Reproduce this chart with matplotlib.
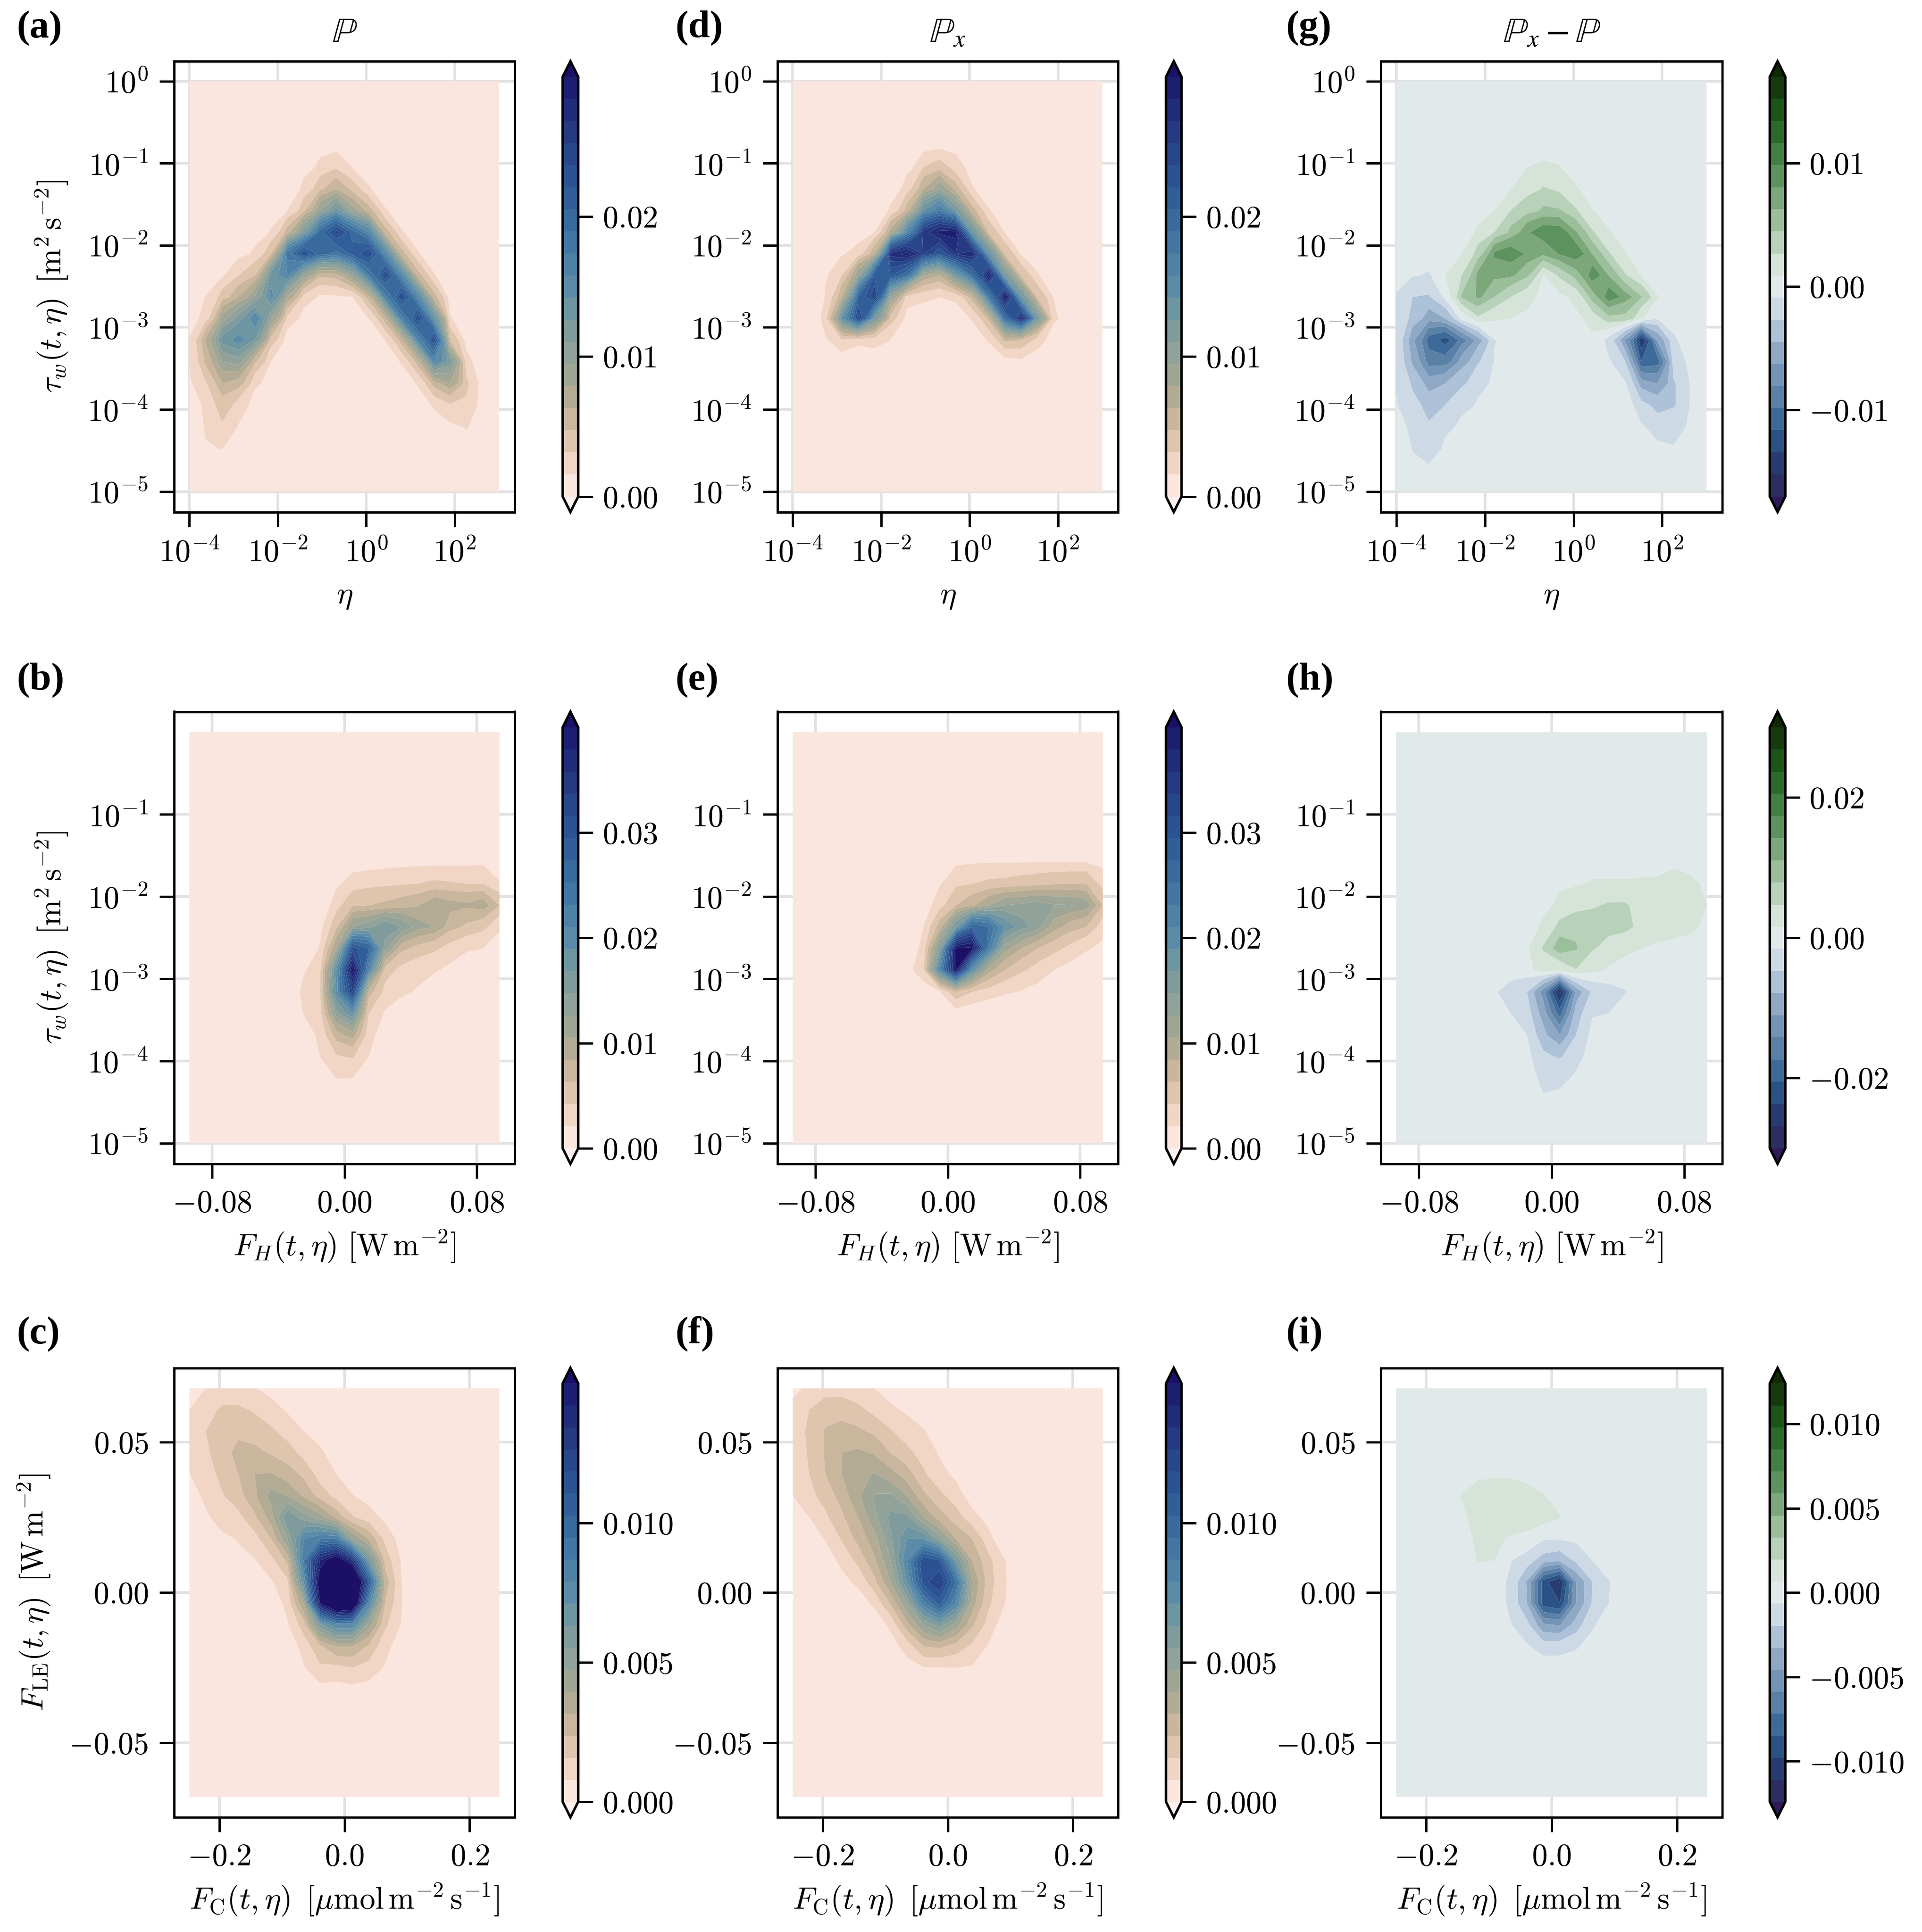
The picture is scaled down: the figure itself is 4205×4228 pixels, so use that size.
import numpy as np
import matplotlib
matplotlib.use('Agg')
import matplotlib.pyplot as plt
from matplotlib.colors import ListedColormap

plt.rcParams['font.family'] = 'serif'
plt.rcParams['font.serif'] = ['cmr10']
plt.rcParams['mathtext.fontset'] = 'cm'
plt.rcParams['axes.unicode_minus'] = False
plt.rcParams['axes.formatter.use_mathtext'] = True

# densities on the 20 x 20 grid, read off the contour bands (1 = one contour step)
# column k: (first row from the top, values going down)
A_COLS = {
    0: (10, [.4, .6, 1.05, 1.05, .9]),
    1: (10, [1.05, 1.5, 4.2, 3.3, 1.9, 1.5, 1.2, .9, .4]),
    2: (9, [.9, 2.5, 5.5, 8.5, 6, 4, 2.5, 1.9, 1.05, .3]),
    3: (8, [.7, 2, 4, 7.5, 9.5, 6.5, 3.5, 1.6, .95]),
    4: (7, [.5, 1.2, 3, 6, 10, 8, 3.2, 1.3, .5]),
    5: (6, [.4, 1.1, 3, 8.5, 9.5, 6, 2.6, 1, .3]),
    6: (5, [.3, 1, 3.5, 11.5, 10, 5, 1.7, .5]),
    7: (4, [.6, 1.3, 2.8, 7.5, 14.8, 6, 1.6, .6]),
    8: (3, [.5, 1.3, 2.8, 6, 12.5, 12.5, 3.2, .85, .3]),
    9: (3, [.6, 1.9, 4, 8.5, 15.5, 11.5, 3.5, .85, .3]),
    10: (4, [1, 2.6, 5.5, 12.5, 13.5, 6, 1, .4]),
    11: (4, [.4, 1.1, 3.5, 10, 15, 11, 3.5, 1]),
    12: (5, [.4, 1.1, 3.5, 10, 15, 10.5, 3.5, 1, .4]),
    13: (6, [.4, 1.1, 3.5, 10, 15, 10.5, 3.5, 1.1, .4]),
    14: (7, [.4, 1.1, 3.5, 10, 15, 10, 3.5, 1.1, .4]),
    15: (8, [.3, 1.1, 3.5, 9, 15, 10, 3.5, 1.2, .4]),
    16: (10, [.5, 1.1, 3, 7.5, 5, 1.9, .85]),
    17: (12, [.6, 1.4, 2.2, 1.9, 1.1, .5]),
    18: (14, [.4, .4]),
}
D_COLS = {
    2: (9, [.9, 1.1, 1.6, .9, .2]),
    3: (8, [.9, 2, 4, 9, 1.8, .5]),
    4: (7, [.3, 1.5, 6, 13, 15.5, 1.3, .3]),
    5: (6, [.3, 1, 4, 14, 16, 8, 1.5, .4]),
    6: (5, [.4, 1.2, 4.5, 17.5, 14, 6, 2.5, 1, .3]),
    7: (4, [.6, 1.6, 3.5, 10, 18.5, 12, 1.6, .6]),
    8: (3, [.5, 2, 4, 9, 16.5, 16, 5, 1.3, .4]),
    9: (3, [.7, 2.6, 6, 11, 18.5, 14, 4, 1, .3]),
    10: (3, [.6, 1.5, 3.5, 8, 18.5, 17, 8, 1.3, .4]),
    11: (4, [.5, 1.1, 3.5, 8.5, 18, 12, 3.5, 1.1, .4]),
    12: (5, [.4, 1.1, 3, 9, 18.7, 11, 3.2, 1.1, .3]),
    13: (6, [.4, 1, 3, 8, 18.9, 12, 3.2, .6]),
    14: (7, [.3, 1, 3, 8.5, 17.5, 3, .8]),
    15: (8, [.5, 1.1, 3, 8, 1.4, .6]),
    16: (9, [.3, 1, 1.2, .5]),
    17: (11, [.3]),
}
G_COLS = {
    0: (10, [-.6, -.7, -.8, -.75, -.55, -.45]),
    1: (9, [-.45, -1.5, -1.9, -3.3, -2.7, -1.7, -1.2, -.9, -.55, -.3]),
    2: (9, [-.6, -1.6, -3.1, -6, -5, -3, -1.9, -1.4, -.9, -.4]),
    3: (9, [.5, -.2, -2.5, -7, -5, -2.5, -1.5, -.7, -.35]),
    4: (8, [.5, 1.5, 2.6, -.2, -5, -3, -1.7, -.8, -.3]),
    5: (7, [.7, 2, 3.8, 3.7, 1.3, -3, -1.6, -.8, -.4]),
    6: (6, [.5, 1.5, 4.7, 3.8, 2.5, .7, -.55, -.45, -.3]),
    7: (5, [.5, 1.5, 2.8, 5.2, 3.7, 1.5, .5]),
    8: (4, [.5, 1.1, 2.1, 4.4, 4.3, 2.7, .9, .3]),
    9: (3, [.25, .6, 1.6, 2.7, 5.2, 3.7, .45, .1]),
    10: (4, [.55, 1.3, 2.6, 5.1, 4.6, 1.7, .3]),
    11: (5, [.6, 1.6, 3.6, 5.2, 3, .8, .3]),
    12: (6, [.55, 1.6, 3.5, 5.2, 3, .9, .3]),
    13: (7, [.6, 1.6, 3.5, 5.2, 2.2, -.9, -.4]),
    14: (8, [.55, 1.6, 4, 2.2, -3.5, -1.4, -.4]),
    15: (9, [.5, 2.6, .6, -8.5, -6.5, -3, -1.2, -.4]),
    16: (10, [.55, -.5, -3.3, -6, -3.5, -1.9, -1, -.3]),
    17: (11, [-.2, -.6, -.9, -1.6, -1.6, -.9, -.45]),
    18: (13, [-.3, -.45, -.45, -.3]),
}
B_COLS = {
    7: (11, [.85, 1.3, 1.05, .5]),
    8: (9, [.7, 1.1, 1.8, 1.9, 1.6, 1.2, 1, .4]),
    9: (7, [.8, 1.6, 2.8, 5, 9, 9.5, 6.5, 3.5, 1.9, 1.02, .2]),
    10: (6, [.4, 1.5, 2.9, 6, 14.5, 19.5, 16, 9, 4.5, 2.1, 1, .2]),
    11: (6, [.45, 1.7, 3, 6.7, 13, 10, 3.5, 2, 1.4, 1, .3]),
    12: (6, [.55, 1.8, 3.2, 8, 6.3, 2.5, 1.7, .9, .4]),
    13: (6, [.65, 1.9, 3.5, 7, 3.3, 1.7, 1.2, .5]),
    14: (6, [.7, 2, 3.9, 5.5, 2.6, 1.4, .9, .3]),
    15: (6, [.7, 2.2, 4.8, 5, 2.2, 1.1, .6]),
    16: (6, [.72, 2.1, 4.4, 3.4, 1.6, .8, .3]),
    17: (6, [.75, 2, 4.2, 2.8, 1.15, .4]),
    18: (6, [.8, 2, 4.6, 2.3, 1, .3]),
    19: (6, [.5, 1.05, 3, 1.15, .6, .2]),
}
E_COLS = {
    7: (11, [.6]),
    8: (8, [.4, 1, 1.4, 1.7, .5]),
    9: (6, [.2, .9, 1.6, 3.5, 7, 10, .95, .3]),
    10: (6, [.8, 1.8, 3, 8, 19.1, 19.1, 3, .6]),
    11: (6, [.9, 2, 3.8, 13, 19.3, 9, 2, .4]),
    12: (6, [.95, 2.2, 5, 12, 11, 4.5, 1.6, .2]),
    13: (6, [.95, 2.3, 6, 9, 5.5, 3, 1.2]),
    14: (6, [.97, 2.5, 6.2, 7.5, 4, 2.2, .95]),
    15: (6, [.97, 2.7, 6.5, 6.5, 3, 1.6, .7]),
    16: (6, [.97, 2.9, 6.1, 4.5, 2.4, 1, .4]),
    17: (6, [.97, 3, 6.05, 3.5, 1.7, .7]),
    18: (6, [.97, 3, 5.6, 3, 1.1, .5]),
    19: (6, [.7, 1.6, 3, 1.4, .8]),
}
H_COLS = {
    6: (12, [-.4]),
    7: (12, [-.9, -.5, -.2]),
    8: (10, [.4, .2, -1.5, -1, -.5, -.2]),
    9: (8, [.2, .7, 1.6, .9, -4, -3, -2.2, -1.3, -.8, -.4]),
    10: (7, [.3, .75, 1.8, 3.2, .6, -9, -6, -3.5, -1.6, -.75, -.3]),
    11: (7, [.4, 1.1, 2.2, 2.6, 1.45, -3.2, -2, -1.5, -.9, -.35]),
    12: (7, [.6, 1.4, 1.9, 1.6, .75, -1.3, -.6, -.2]),
    13: (7, [.6, 1.6, 1.9, 1.1, .4, -.9, -.5, -.1]),
    14: (7, [.6, 1.6, 1.8, .8, .1, -.55, -.1]),
    15: (7, [.65, 1.2, 1.2, .5, .1]),
    16: (7, [.7, 1.1, 1, .35]),
    17: (6, [.3, .85, 1.1, .9, .25]),
    18: (7, [.75, 1.2, .7, .2]),
    19: (7, [.3, .5, .3]),
}
C_COLS = {
    0: (0, [.5, 1.02, 1.2, 1.15, .98, .6, .2]),
    1: (0, [1, 1.5, 2, 1.8, 1.5, 1.2, .85, .3]),
    2: (0, [1.3, 2.2, 2.5, 2.6, 2.3, 1.9, 1.4, .8, .2]),
    3: (0, [1.3, 2.2, 2.8, 3.3, 3, 2.6, 1.7, 1.05, .8, .3]),
    4: (0, [1.05, 1.9, 2.5, 3.3, 4, 3.8, 2.8, 1.6, .95, .5]),
    5: (0, [.7, 1.4, 2.2, 2.9, 4.1, 5.4, 4.5, 3, 1.7, .9, .3]),
    6: (1, [.9, 1.6, 2.5, 3.5, 5, 8, 6, 3.2, 1.8, 1.3, .9, .3]),
    7: (1, [.4, 1, 1.7, 2.8, 3.9, 6.5, 10, 11, 9, 5, 2.5, 1.4, .9]),
    8: (2, [.6, 1.2, 1.6, 2.6, 5.5, 11, 18, 20.5, 19, 7.5, 2.8, 1.8, .7]),
    9: (3, [.5, 1, 1.7, 3.8, 11, 21, 26, 24, 10, 4, 1.7, .6]),
    10: (4, [.5, 1.05, 2.1, 6, 17, 25, 23, 10, 4, 2, .7, .2]),
    11: (5, [.6, 1.5, 3.9, 8, 14, 10, 5.5, 2.8, 1.6, .6]),
    12: (6, [.75, 1.7, 2.7, 3.6, 3, 2.2, 1.3, .9, .3]),
    13: (7, [.6, .9, 1.02, 1.05, .95, .5, .2]),
}
# row j: (first column, values going right), for the two panels read that way
F_ROWS = {
    0: (0, [.75, 1.2, 1.6, 1.6, 1.3, 1, .6, .3]),
    1: (0, [1.3, 2, 2.6, 2.6, 2.3, 1.7, 1.2, .85, .4]),
    2: (0, [1.4, 2.2, 3.1, 3.4, 3.2, 2.8, 2.1, 1.5, 1.1, .5]),
    3: (0, [1.4, 2.1, 3.1, 4, 4.2, 3.9, 3, 2.3, 1.6, .9, .3]),
    4: (0, [1.25, 2, 3, 4, 4.6, 5.1, 4.4, 3.5, 2.2, 1.3, .8]),
    5: (0, [1, 1.7, 2.4, 3.4, 4.8, 6.1, 6.2, 5, 3.3, 2.3, 1.5, .5]),
    6: (0, [.4, 1, 1.8, 2.8, 4, 5.7, 7.3, 7.3, 5, 3.5, 2.5, 1.4, .6]),
    7: (1, [.5, 1.05, 2.1, 3.3, 4.6, 6.8, 9, 9, 6.5, 4, 3, 1.4]),
    8: (2, [.6, 1.2, 2.3, 3.8, 6, 10, 15, 14, 8, 4, 2.3, 1.05]),
    9: (3, [.75, 1.2, 2.7, 5, 9, 14.5, 16.2, 12, 5, 2.5, 1.1, .3]),
    10: (4, [.5, 1.2, 3.1, 6, 10.5, 13.5, 10, 4.5, 2.2, 1.03]),
    11: (5, [.4, 1.2, 3.6, 6, 7.5, 5.5, 3.2, 1.6, .4]),
    12: (6, [.6, 1.4, 3, 3.2, 2.6, 1.8, .9, .2]),
    13: (7, [.6, .95, .95, 1, .9, .1]),
    14: (8, [.2, .2, .2]),
}
I_ROWS = {
    4: (5, [.35, .4, .4, .2]),
    5: (4, [.55, .9, 1, 1, .9, .55, .2]),
    6: (4, [.3, .9, 1, 1, 1, .9, .55, .1]),
    7: (4, [.1, .7, .7, .4, .2, -.4, -.45, -.3]),
    8: (5, [.55, .5, -.45, -1, -2, -2.3, -1.3, -.5]),
    9: (5, [.1, 0, -.7, -2.6, -7, -8.6, -3.5, -1.5, -.55]),
    10: (7, [-.7, -2.5, -7, -7.5, -3.5, -1.4, -.5]),
    11: (7, [-.45, -1.2, -3.3, -3.6, -2, -.6, -.1]),
    12: (8, [-.4, -.9, -.8, -.6, -.2]),
    13: (10, [-.1]),
}

# colourbar tops for each row
VMAX_SEQ = [0.03, 0.04, 0.015]
VMAX_DIV = [0.017, 0.03, 0.0124]

CB_TICKS_SEQ = [[0, 0.01, 0.02], [0, 0.01, 0.02, 0.03], [0, 0.005, 0.01]]
CB_LABELS_SEQ = [['$0.00$', '$0.01$', '$0.02$'],
                 ['$0.00$', '$0.01$', '$0.02$', '$0.03$'],
                 ['$0.000$', '$0.005$', '$0.010$']]
CB_TICKS_DIV = [[-0.01, 0, 0.01], [-0.02, 0, 0.02], [-0.01, -0.005, 0, 0.005, 0.01]]
CB_LABELS_DIV = [['$-0.01$', '$0.00$', '$0.01$'],
                 ['$-0.02$', '$0.00$', '$0.02$'],
                 ['$-0.010$', '$-0.005$', '$0.000$', '$0.005$', '$0.010$']]

ETA_TICKS = [1e-4, 1e-2, 1e0, 1e2]
ETA_LABELS = ['$10^{-4}$', '$10^{-2}$', '$10^{0}$', '$10^{2}$']
TAU_TICKS = [1e-5, 1e-4, 1e-3, 1e-2, 1e-1, 1e0]
TAU_LABELS = ['$10^{-5}$', '$10^{-4}$', '$10^{-3}$', '$10^{-2}$', '$10^{-1}$', '$10^{0}$']
FH_TICKS = [-0.08, 0, 0.08]
FH_LABELS = ['$-0.08$', '$0.00$', '$0.08$']
FC_TICKS = [-0.2, 0, 0.2]
FC_LABELS = ['$-0.2$', '$0.0$', '$0.2$']
FLE_TICKS = [-0.05, 0, 0.05]
FLE_LABELS = ['$-0.05$', '$0.00$', '$0.05$']

LAPAZ_BANDS = ['#fbe6df', '#f2d6c5', '#dfc5ae', '#c9b69d', '#b4ab94', '#a0a696', '#90a29a',
               '#809b9c', '#6d95a2', '#5b8ba8', '#4d82a6', '#4276a3', '#386a9e', '#305e98',
               '#2b5292', '#28468b', '#253a83', '#212d7b', '#1c1f71']
CORK_BANDS = ['#2c2d60', '#283c72', '#2a5285', '#3e6a9a', '#5a80a6', '#7394b7', '#8fa9c5',
              '#adc1d8', '#cddae6', '#e2e9ea', '#d5e3d8', '#b8d1b9', '#9bbe9b', '#7ba77a',
              '#5b925d', '#437f42', '#2c6a2c', '#1b5518', '#143a0e']

W, H = 4205, 4228
N = 20


def grid(entries, rows=False, fill=0.0):
    # z[j, k]: j counts from the top of the panel
    z = np.full((N, N), fill)
    for idx, (start, vals) in entries.items():
        if rows:
            z[idx, start:start + len(vals)] = vals
        else:
            z[start:start + len(vals), idx] = vals
    return z[::-1]


def px_axes(fig, left, top, right, bottom):
    return fig.add_axes([left / W, 1 - bottom / H, (right - left) / W, (bottom - top) / H])


seq_cmap = ListedColormap(LAPAZ_BANDS)
seq_cmap.set_over('#1b0f66')
seq_cmap.set_under('#fff1ee')
div_cmap = ListedColormap(CORK_BANDS)
div_cmap.set_over('#0f2a02')
div_cmap.set_under('#2e1a57')

fig = plt.figure(figsize=(W / 300, H / 300), dpi=300)

col_x = [(381, 1126), (1701, 2446), (3021, 3768)]
cb_x = [(1231, 1265), (2551, 2585), (3872, 3906)]
row_y = [(134, 1120.5), (1557.5, 2547), (2993.5, 3977)]

x_nodes = [np.logspace(-4, 3, N), np.linspace(-0.0938, 0.0938, N), np.linspace(-0.2476, 0.2476, N)]
y_nodes = [np.logspace(-5, 0, N), np.logspace(-5, 0, N), np.linspace(-0.0679, 0.0679, N)]
xlims = [(10 ** -4.346, 10 ** 3.356), (-0.103, 0.103), (-0.272, 0.272)]
ylims = [(10 ** -5.25, 10 ** 0.243), (10 ** -5.25, 10 ** 0.25), (-0.0747, 0.0747)]
xlabels = [r'$\eta$', r'$F_H(t,\eta)\ [\mathrm{W}\,\mathrm{m}^{-2}]$',
           r'$F_{\mathrm{C}}(t,\eta)\ \,[\mu\mathrm{mol}\,\mathrm{m}^{-2}\,\mathrm{s}^{-1}]$']
xlabel_pads = [8, 5.5, 5.5]
ylabels = [r'$\tau_w(t,\eta)\ \,[\mathrm{m}^2\,\mathrm{s}^{-2}]$',
           r'$\tau_w(t,\eta)\ \,[\mathrm{m}^2\,\mathrm{s}^{-2}]$',
           r'$F_{\mathrm{LE}}(t,\eta)\ \,[\mathrm{W}\,\mathrm{m}^{-2}]$']
titles = [r'$\mathbb{P}$', r'$\mathbb{P}_x$', r'$\mathbb{P}_x - \mathbb{P}$']

panels = [
    [grid(A_COLS, fill=.05), grid(D_COLS, fill=.05), grid(G_COLS)],
    [grid(B_COLS, fill=.05), grid(E_COLS, fill=.05), grid(H_COLS)],
    [grid(C_COLS, fill=.05), grid(F_ROWS, rows=True, fill=.05), grid(I_ROWS, rows=True)],
]
letters = [['(a)', '(d)', '(g)'], ['(b)', '(e)', '(h)'], ['(c)', '(f)', '(i)']]
letter_x = [36, 1477, 2813]
letter_y = [82, 1509, 2940]

for r in range(3):
    for c in range(3):
        ax = px_axes(fig, col_x[c][0], row_y[r][0], col_x[c][1], row_y[r][1])
        diverging = c == 2
        vmax = VMAX_DIV[r] if diverging else VMAX_SEQ[r]
        if diverging:
            levels = np.linspace(-vmax, vmax, 20)
            step = levels[1] - levels[0]
            cmap = div_cmap
        else:
            levels = np.linspace(0, vmax, 20)
            step = levels[1] - levels[0]
            cmap = seq_cmap

        if r < 2:
            ax.set_yscale('log')
        if r == 0:
            ax.set_xscale('log')
        ax.set_axisbelow(True)
        ax.grid(True, which='major', color='#e2e2e2', linewidth=1.4)
        ax.minorticks_off()

        cs = ax.contourf(x_nodes[r], y_nodes[r], panels[r][c] * step, levels=levels, cmap=cmap,
                         vmin=levels[0], vmax=levels[-1], extend='both', antialiased=True)

        ax.set_xlim(xlims[r])
        ax.set_ylim(ylims[r])
        if r == 0:
            ax.set_xticks(ETA_TICKS, ETA_LABELS)
            ax.set_yticks(TAU_TICKS, TAU_LABELS)
        elif r == 1:
            ax.set_xticks(FH_TICKS, FH_LABELS)
            ax.set_yticks(TAU_TICKS[:-1], TAU_LABELS[:-1])
        else:
            ax.set_xticks(FC_TICKS, FC_LABELS)
            ax.set_yticks(FLE_TICKS, FLE_LABELS)
        ax.minorticks_off()
        ax.tick_params(length=7.6, width=1.2, labelsize=16.4, pad=6)
        for s in ax.spines.values():
            s.set_linewidth(1.2)

        ax.set_xlabel(xlabels[r], fontsize=16.4, labelpad=xlabel_pads[r])
        if c == 0:
            ax.set_ylabel(ylabels[r], fontsize=16.4, labelpad=9.3)
        if r == 0:
            ax.set_title(titles[c], fontsize=18.8, pad=10, math_fontfamily='stix')

        # the extend tips are drawn inside this box
        cax = px_axes(fig, cb_x[c][0], row_y[r][0], cb_x[c][1], row_y[r][1])
        cb = fig.colorbar(cs, cax=cax, extendfrac=0.037)
        cb.set_ticks(CB_TICKS_DIV[r] if diverging else CB_TICKS_SEQ[r],
                     labels=CB_LABELS_DIV[r] if diverging else CB_LABELS_SEQ[r])
        cb.minorticks_off()
        cb.ax.tick_params(length=7.6, width=1.2, labelsize=16.4, pad=5)
        cb.outline.set_linewidth(1.3)

        fig.text(letter_x[c] / W, 1 - letter_y[r] / H, letters[r][c], fontsize=20.5,
                 fontweight='bold', family='Liberation Serif', ha='left', va='baseline')

fig.savefig('out.png', dpi=300)
